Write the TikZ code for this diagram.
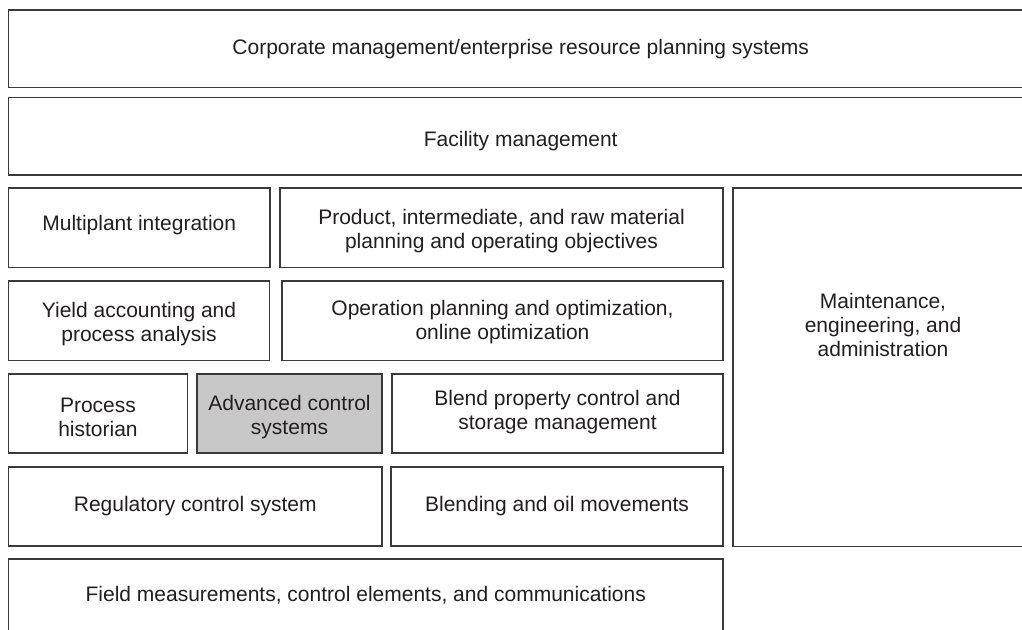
\documentclass[tikz,border=0pt]{standalone}
\usepackage{fontspec}
\setmainfont{Liberation Sans}
\definecolor{edge}{HTML}{3A3A3A}
\definecolor{ink}{HTML}{231F20}
\definecolor{shade}{HTML}{C8C8C8}
\begin{document}
\begin{tikzpicture}[x=1pt,y=-1pt,
  box/.style={draw=edge, line width=1.4pt, rectangle, inner sep=0pt, outer sep=0pt},
  lbl/.style={inner sep=0pt, align=center, text=ink, font=\fontsize{21}{24}\selectfont}]
\useasboundingbox (0,0) rectangle (1022,629);
\clip (0,0) rectangle (1022,629);
\fill[white] (0,0) rectangle (1022,629);
% boxes
\node[box, minimum width=1024.5pt, minimum height=77.5pt] (corp) at (520.75,48.75) {};
\node[box, minimum width=1024.5pt, minimum height=77.5pt] (fac) at (520.75,136.25) {};
\node[box, minimum width=261.5pt, minimum height=79.5pt] (multi) at (139.25,227.75) {};
\node[box, minimum width=443pt, minimum height=79.5pt] (prod) at (501.5,227.75) {};
\node[box, minimum width=300pt, minimum height=358.5pt] (maint) at (883,367.25) {};
\node[box, minimum width=261pt, minimum height=79.5pt] (yield) at (139,320.75) {};
\node[box, minimum width=441pt, minimum height=79.5pt] (oper) at (502.5,320.75) {};
\node[box, minimum width=179pt, minimum height=79pt] (hist) at (98,413.5) {};
\node[box, fill=shade, minimum width=185pt, minimum height=79pt] (adv) at (289.5,413.5) {};
\node[box, minimum width=331pt, minimum height=79pt] (blend) at (557.5,413.5) {};
\node[box, minimum width=373.5pt, minimum height=79pt] (reg) at (195.25,506.5) {};
\node[box, minimum width=332pt, minimum height=79pt] (blending) at (557,506.5) {};
\node[box, minimum width=714.5pt, minimum height=101pt] (field) at (365.75,609.5) {};
% labels
\node[lbl] (corpt) at (520.75,48.75) {Corporate management/enterprise resource planning systems};
\node[lbl] (fact) at (520.75,141) {Facility management};
\node[lbl] (multit) at (139.25,224.75) {Multiplant integration};
\node[lbl] (prodt) at (501.5,231.5) {Product, intermediate, and raw material\\planning and operating objectives};
\node[lbl] (maintt) at (883,325) {Maintenance,\\engineering, and\\administration};
\node[lbl] (yieldt) at (139,323.75) {Yield accounting and\\process analysis};
\node[lbl] (opert) at (502.5,322.25) {Operation planning and optimization,\\online optimization};
\node[lbl] (histt) at (98,417.5) {Process\\historian};
\node[lbl] (advt) at (289.5,417.5) {Advanced control\\systems};
\node[lbl] (blendt) at (557.5,412.5) {Blend property control and\\storage management};
\node[lbl] (regt) at (195.25,506.5) {Regulatory control system};
\node[lbl] (blendingt) at (557,506.5) {Blending and oil movements};
\node[lbl] (fieldt) at (365.75,595) {Field measurements, control elements, and communications};
\end{tikzpicture}
\end{document}
